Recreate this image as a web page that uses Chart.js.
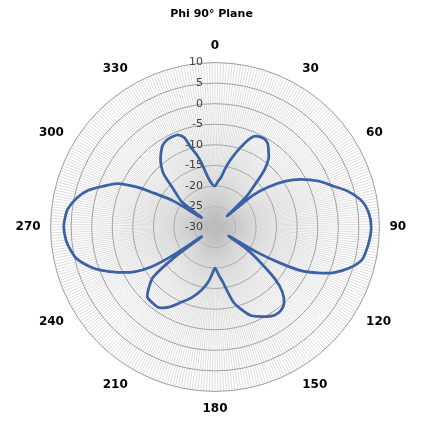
<!DOCTYPE html>
<html>
<head>
<meta charset="utf-8">
<title>Phi 90° Plane</title>
<script src="https://cdn.jsdelivr.net/npm/chart.js@4"></script>
<style>
  html, body { margin: 0; padding: 0; background: #ffffff; }
</style>
</head>
<body>
<canvas id="pattern-chart" width="425" height="421"></canvas>
<script>
  const sampleAngles = [
    0, 4, 7, 10, 13, 18, 23, 28, 32, 36, 38, 41, 43, 46, 48,
    50, 53, 57, 61, 66, 71, 75, 80, 85, 90, 95, 100, 103, 107, 111, 114, 117, 119, 121, 123,
    125, 128, 131, 134, 138, 142, 146, 150, 154, 158, 162, 166, 169, 172, 176,
    180, 183, 187, 192, 198, 204, 210, 215, 220, 224, 228, 231, 233, 234,
    236, 238, 241, 245, 249, 252, 257, 261, 265, 270, 274, 277, 282, 286, 290, 294, 297, 299, 302, 305,
    307, 310, 312, 316, 319, 322, 327, 331, 335, 338, 341, 343, 346, 348, 352, 356
  ];
  const gainDb = [
    -20, -18.8, -17.8, -15.5, -13.2, -9.5, -6.1, -5.4, -5.9, -7.8, -8.8, -11.7, -15.4, -19.5, -26,
    -18, -13.9, -9.5, -6.1, -2.5, 0.5, 3.5, 6.3, 7.6, 8.0, 7.7, 7.1, 6.5, 4.2, 1.0, -2.5, -6.6, -12, -18, -26,
    -20.5, -15.8, -10.5, -7.2, -4.9, -4.1, -4.1, -4.8, -5.8, -6.8, -8.8, -11, -14, -16.5, -18.5,
    -20, -18.8, -16.5, -14.3, -12, -10, -7.5, -6.1, -6.1, -6.3, -8.5, -10.7, -17, -26,
    -18, -11.6, -7.5, -3.9, -0.5, 1.7, 4.5, 5.6, 6.4, 6.8, 6.5, 6.1, 4.3, 2.2, -1, -4, -8.5, -13, -18, -26,
    -20, -18, -16.6, -12, -10, -8.5, -6.5, -5.8, -5.7, -5.8, -7, -9.6, -12, -14, -17.8, -19.5
  ];
  const tickValues = [10, 5, 0, -5, -10, -15, -20, -25, -30];
  const labelStep = 30;

  // One category per degree, like the source sheet
  const angleLabels = [];
  for (let a = 0; a < 360; a++) angleLabels.push(String(a));

  const series = angleLabels.map(() => null);
  sampleAngles.forEach((a, i) => { series[a] = gainDb[i]; });

  // Value labels sit left of the 0 deg spoke, right aligned
  const tickLabels = {
    id: 'tickLabels',
    beforeDatasetsDraw(chart) {
      const scale = chart.scales.r;
      const ctx = chart.ctx;
      ctx.save();
      ctx.font = '11px "DejaVu Sans"';
      ctx.fillStyle = '#404040';
      ctx.textAlign = 'right';
      ctx.textBaseline = 'middle';
      tickValues.forEach(v => {
        const d = scale.getDistanceFromCenterForValue(v);
        ctx.fillText(String(v), scale.xCenter - 12, scale.yCenter - d);
      });
      ctx.restore();
    }
  };

  const ctx = document.getElementById('pattern-chart').getContext('2d');
  new Chart(ctx, {
    type: 'radar',
    data: {
      labels: angleLabels,
      datasets: [{
        label: 'Phi 90° Plane',
        data: series,
        borderColor: '#3b62a6',
        borderWidth: 2.75,
        pointRadius: 0,
        pointHoverRadius: 0,
        fill: false,
        spanGaps: true,
        tension: 0.3
      }]
    },
    plugins: [tickLabels],
    options: {
      responsive: false,
      animation: false,
      layout: { padding: { left: 3, right: 5, top: 0, bottom: 5 } },
      plugins: {
        legend: { display: false },
        tooltip: { enabled: false },
        title: {
          display: true,
          text: 'Phi 90° Plane',
          color: '#000000',
          font: { family: '"DejaVu Sans"', size: 11, weight: 'bold' },
          padding: { top: 8, bottom: 17 }
        }
      },
      scales: {
        r: {
          min: -30,
          max: 10,
          ticks: { stepSize: 5, display: false },
          grid: { circular: true, color: '#9a9a9a', lineWidth: 1 },
          angleLines: { color: '#bdbdbd', lineWidth: 0.5 },
          pointLabels: {
            callback: (label, i) => (i % labelStep === 0 ? label : ''),
            color: '#000000',
            font: { family: '"DejaVu Sans"', size: 12, weight: 'bold' },
            padding: 10
          }
        }
      }
    }
  });
</script>
</body>
</html>
